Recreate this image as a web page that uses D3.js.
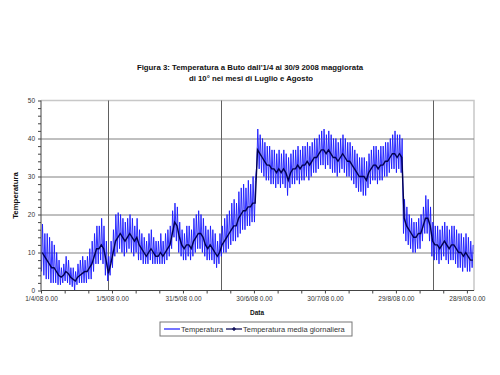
<!DOCTYPE html>
<html>
<head>
<meta charset="utf-8">
<script src="https://cdn.jsdelivr.net/npm/d3@7"></script>
<style>
  body { margin: 0; background: #fff; }
  text { font-family: Arial, "Liberation Sans", sans-serif; }
</style>
</head>
<body>
<div id="chart"></div>
<script>
// daily values (1/4/08 .. 30/9/08), one row per month
var tempMax = [
    17.5, 15, 15, 14, 13, 12, 10, 8, 6, 7, 9, 8, 6, 6, 5, 7, 8, 9, 8, 9, 11, 13, 15, 17, 17, 19, 17, 13, 9, 13,
    16, 20, 20.5, 20, 19, 18, 19, 20, 19, 17, 19, 16, 15, 14, 13, 15, 16, 14, 13, 13, 15, 13, 15, 16, 17, 21, 23, 22, 18, 16, 15,
    17, 17, 16, 19, 20, 21, 20, 19, 17, 16, 17, 16, 15, 13, 15, 17, 19, 20, 21, 23, 24, 23, 26, 27, 28, 27, 29, 28, 30, 29,
    42.5, 41, 40, 39, 38, 38, 37, 37, 36, 37, 36, 37, 36, 35, 36, 37, 37, 38, 37, 38, 38, 39, 38, 39, 40, 40, 41, 42, 42.5, 41, 42,
    41, 40, 40, 39, 40, 41, 40, 39, 39, 38, 37, 36, 35, 35, 35, 34, 36, 37, 38, 38, 37, 38, 38, 39, 39, 40, 41, 42, 41, 41, 40,
    24, 22, 20, 19, 18, 18, 19, 20, 22, 25, 24, 22, 18, 17, 17, 16, 17, 18, 17, 16, 17, 17, 16, 15, 15, 14, 15, 14, 13, 12
];
var tempMin = [
    5, 4, 3, 3, 2, 2, 2, 1.5, 1.5, 2, 2.5, 2, 1.5, 1, 0, 1.5, 2, 2, 2, 2, 3, 3, 5, 7, 7, 8, 7, 4, 2.5, 4,
    6, 9, 10, 11, 10, 9, 10, 11, 10, 9, 10, 8, 8, 7, 7, 7, 8, 7, 7, 7, 7, 7, 7, 8, 9, 11, 14, 13, 10, 9, 8,
    8, 9, 8, 9, 10, 11, 11, 10, 9, 8, 8, 8, 7, 6, 7, 9, 10, 10, 11, 12, 13, 13, 14, 15, 16, 16, 17, 17, 18, 18,
    33, 32, 31, 30, 29, 29, 28, 28, 27, 28, 27, 28, 27, 25, 27, 28, 28, 29, 28, 29, 29, 30, 29, 30, 31, 31, 32, 33, 33, 32, 33,
    32, 31, 31, 30, 31, 32, 31, 30, 30, 29, 28, 27, 26, 26, 25, 25, 27, 28, 29, 29, 28, 29, 29, 30, 30, 31, 32, 32, 31, 32, 31,
    15, 13, 12, 11, 10, 10, 11, 11, 13, 15, 15, 13, 9, 8, 8, 7, 8, 9, 8, 7, 8, 8, 7, 6, 6, 5, 6, 5, 5, 6
];
var tempMean = [
    10, 9, 8, 7, 6, 6, 5, 4, 3.5, 4, 5, 4.5, 3.5, 3, 2.5, 3.5, 4, 4.5, 5, 5, 6, 7, 9, 11, 11, 12, 11, 8, 4.5, 7,
    10, 13, 14, 15, 14, 13, 14, 15, 14, 13, 14, 12, 11, 10, 9, 10, 11, 10, 9, 9, 10, 9, 10, 11, 12, 15, 18, 17, 14, 12, 11,
    12, 12, 11, 13, 14, 15, 15, 14, 12, 11, 12, 11, 10, 9, 10, 12, 13, 14, 15, 16, 17, 17, 19, 20, 21, 21, 22, 22, 23, 23,
    37, 36, 35, 34, 33, 33, 32, 32, 31, 32, 31, 32, 31, 29, 31, 32, 32, 33, 32, 33, 33, 34, 33, 34, 35, 35, 36, 37, 37, 36, 37,
    36, 35, 35, 34, 35, 36, 35, 34, 34, 33, 32, 31, 30, 30, 30, 29, 31, 32, 33, 33, 32, 33, 33, 34, 34, 35, 36, 36, 35, 36, 35,
    19, 17, 16, 15, 14, 14, 15, 15, 17, 19, 19, 17, 13, 12, 12, 11, 12, 13, 12, 11, 12, 12, 11, 10, 10, 9, 10, 9, 8, 8
];

// axis labels
var xTickDays = [0, 30, 60, 90, 120, 150, 180];
var xTickLabels = ["1/4/08 0.00", "1/5/08 0.00", "31/5/08 0.00", "30/6/08 0.00", "30/7/08 0.00", "29/8/08 0.00", "28/9/08 0.00"];
var yTicks = [0, 10, 20, 30, 40, 50];
var markerDates = ["2008-04-29T07:00", "2008-06-16T02:00", "2008-09-13T17:00"];

var svgWidth = 500;
var svgHeight = 375;

var margin = { top: 100.5, right: 26, bottom: 84.5, left: 41 };
var width = svgWidth - margin.left - margin.right;
var height = svgHeight - margin.top - margin.bottom;

var svg = d3.select("#chart")
    .append("svg")
    .attr("width", svgWidth)
    .attr("height", svgHeight);

svg.append("rect").attr("width", svgWidth).attr("height", svgHeight).attr("fill", "#fff");

var chartGroup = svg.append("g")
    .attr("transform", `translate(${margin.left}, ${margin.top})`);

function dayDate(i, h) {
    return new Date(2008, 3, 1 + i, h || 0);
}

var xScale = d3.scaleTime()
    .domain([dayDate(0), dayDate(183)])
    .range([0, width]);

var yScale = d3.scaleLinear()
    .domain([0, 50])
    .range([height, 0]);

// plot frame (light) and horizontal gridlines
chartGroup.append("path")
    .attr("d", `M0,0H${width}V${height}`)
    .attr("fill", "none")
    .attr("stroke", "#c8c8c8")
    .attr("stroke-width", 1.5);

chartGroup.append("g")
    .selectAll("line")
    .data(yTicks.filter(d => d > 0 && d < 50))
    .enter()
    .append("line")
    .attr("x1", 0)
    .attr("x2", width)
    .attr("y1", d => Math.round(yScale(d)) + 0.5)
    .attr("y2", d => Math.round(yScale(d)) + 0.5)
    .attr("stroke", "#808080")
    .attr("stroke-width", 1);

// vertical marker lines
chartGroup.append("g")
    .selectAll("line")
    .data(markerDates)
    .enter()
    .append("line")
    .attr("x1", d => Math.round(xScale(new Date(d))) + 0.5)
    .attr("x2", d => Math.round(xScale(new Date(d))) + 0.5)
    .attr("y1", 0)
    .attr("y2", height)
    .attr("stroke", "#606060")
    .attr("stroke-width", 1);

// hourly-like series: daily min (early morning) and max (afternoon)
var tempPoints = [];
tempMin.forEach(function(v, i) {
    tempPoints.push({ date: dayDate(i, 5), t: v });
    tempPoints.push({ date: dayDate(i, 15), t: tempMax[i] });
});

var meanPoints = tempMean.map((v, i) => ({ date: dayDate(i, 12), t: v }));

var line = d3.line()
    .x(d => xScale(d.date))
    .y(d => yScale(d.t));

chartGroup.append("path")
    .datum(tempPoints)
    .attr("fill", "none")
    .attr("stroke", "#1a1aff")
    .attr("stroke-width", 0.9)
    .attr("d", line);

chartGroup.append("path")
    .datum(meanPoints)
    .attr("fill", "none")
    .attr("stroke", "#000050")
    .attr("stroke-width", 1.4)
    .attr("d", line);

// y axis with minor ticks every 2
var leftAxis = d3.axisLeft(yScale)
    .tickValues(d3.range(0, 51, 2))
    .tickSize(3)
    .tickPadding(3)
    .tickFormat(d => yTicks.indexOf(d) >= 0 ? d : "");

var yAxis = chartGroup.append("g").call(leftAxis);
yAxis.selectAll("line").attr("stroke", "#444");
yAxis.select(".domain").attr("stroke", "#444").attr("d", `M0,0V${height}`);
yAxis.selectAll("text").attr("font-size", "6.5px").attr("fill", "#333");

// x axis, ticks every 10 days, labels every 30
var bottomAxis = d3.axisBottom(xScale)
    .tickValues(d3.range(0, 181, 10).map(d => dayDate(d)))
    .tickSize(3)
    .tickPadding(3)
    .tickFormat(function(d) {
        var idx = xTickDays.findIndex(k => +dayDate(k) === +d);
        return idx >= 0 ? xTickLabels[idx] : "";
    });

var xAxis = chartGroup.append("g")
    .attr("transform", `translate(0, ${height})`)
    .call(bottomAxis);
xAxis.selectAll("line").attr("stroke", "#444");
xAxis.select(".domain").attr("stroke", "#444").attr("d", `M0,0H${width}`);
xAxis.selectAll("text").attr("font-size", "6.5px").attr("fill", "#333");

// titles
var title = svg.append("text")
    .attr("x", 250)
    .attr("y", 70)
    .attr("text-anchor", "middle")
    .attr("font-size", "7.8px")
    .attr("font-weight", "bold")
    .attr("fill", "#111");
title.append("tspan").attr("x", 250).text("Figura 3: Temperatura a Buto dall'1/4 al 30/9 2008 maggiorata");
title.append("tspan").attr("x", 251).attr("dy", 11).text("di 10° nei mesi di Luglio e Agosto");

svg.append("text")
    .attr("transform", `translate(18, ${margin.top + height / 2}) rotate(-90)`)
    .attr("text-anchor", "middle")
    .attr("font-size", "7.8px")
    .attr("font-weight", "bold")
    .attr("fill", "#111")
    .text("Temperatura");

svg.append("text")
    .attr("x", 257)
    .attr("y", 315)
    .attr("text-anchor", "middle")
    .attr("font-size", "6.5px")
    .attr("font-weight", "bold")
    .attr("fill", "#111")
    .text("Data");

// legend
var legend = svg.append("g").attr("transform", "translate(160, 322)");
legend.append("rect")
    .attr("width", 192)
    .attr("height", 14)
    .attr("fill", "#fff")
    .attr("stroke", "#777")
    .attr("stroke-width", 1);

legend.append("line")
    .attr("x1", 4).attr("x2", 20).attr("y1", 7).attr("y2", 7)
    .attr("stroke", "#1a1aff").attr("stroke-width", 1.2);
legend.append("text")
    .attr("x", 21).attr("y", 9.8)
    .attr("font-size", "7.5px").attr("fill", "#333")
    .text("Temperatura");

legend.append("line")
    .attr("x1", 66).attr("x2", 82).attr("y1", 7).attr("y2", 7)
    .attr("stroke", "#000050").attr("stroke-width", 1.2);
legend.append("path")
    .attr("d", "M72,7H76M74,5V9")
    .attr("stroke", "#000050").attr("stroke-width", 1.2);
legend.append("text")
    .attr("x", 83).attr("y", 9.8)
    .attr("font-size", "7.5px").attr("fill", "#333")
    .text("Temperatura media giornaliera");
</script>
</body>
</html>
